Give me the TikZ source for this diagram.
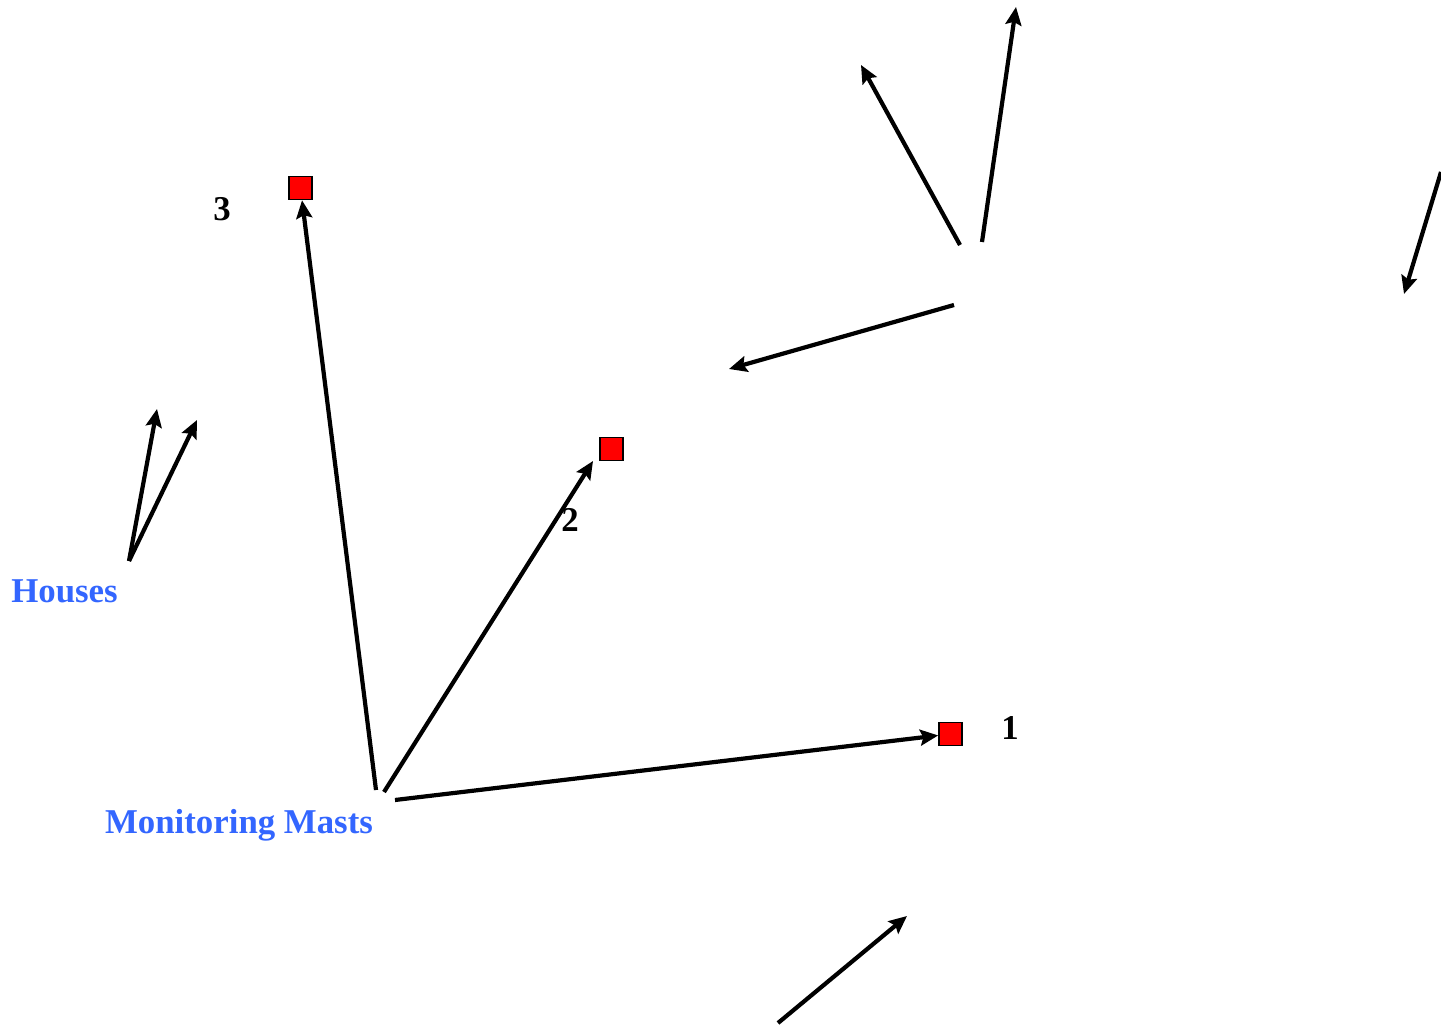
\documentclass[tikz,border=0pt]{standalone}
\usepackage{fontspec}
\setmainfont{Liberation Serif}
\usetikzlibrary{arrows.meta}
\definecolor{mastblue}{HTML}{3366FF}
\definecolor{mastred}{HTML}{FF0000}
\tikzset{
    every node/.style={font=\fontsize{17.4}{20}\selectfont\bfseries},
    mast/.style={rectangle,draw=black,fill=mastred,line width=0.8pt,minimum size=11.5pt,inner sep=0pt},
    caption/.style={text=mastblue,inner sep=0pt},
    num/.style={inner sep=0pt},
    wind/.style={draw,line width=2.1pt,-{Stealth[length=9pt,width=8pt,inset=1.5pt]}}
}
\begin{document}
\begin{tikzpicture}[x=0.5pt,y=-0.5pt]
\useasboundingbox (0,0) rectangle (1441,1027);
% masts
\node[mast] (m1) at (950.5,734) {};
\node[mast] (m2) at (611.5,449) {};
\node[mast] (m3) at (300.5,188) {};
\node[num] (n1) at (1010,728) {1};
\node[num] (n2) at (570,520) {2};
\node[num] (n3) at (222,209) {3};
% captions
\node[caption] (houses) at (64.5,591) {Houses};
\node[caption] (masts) at (239,825) {Monitoring Masts};
% from the masts caption
\coordinate (s1) at (395,800);
\coordinate (s2) at (384,792);
\coordinate (s3) at (376,790);
\coordinate (t2) at (593,461);
\draw[wind] (s1)--(m1);
\draw[wind] (s2)--(t2);
\draw[wind] (s3)--(m3);
% from the houses caption
\coordinate (h0) at (129,561);
\coordinate (h1) at (157,409);
\coordinate (h2) at (197,420);
\draw[wind] (h0)--(h1);
\draw[wind] (h0)--(h2);
% loose arrows
\coordinate (a0) at (960,245);
\coordinate (a1) at (861,65);
\coordinate (b0) at (982,242);
\coordinate (b1) at (1016,7);
\coordinate (c0) at (954,305);
\coordinate (c1) at (729,369);
\coordinate (d0) at (1441,172);
\coordinate (d1) at (1404,294);
\coordinate (e0) at (778,1023);
\coordinate (e1) at (907,916);
\draw[wind] (a0)--(a1);
\draw[wind] (b0)--(b1);
\draw[wind] (c0)--(c1);
\draw[wind] (d0)--(d1);
\draw[wind] (e0)--(e1);
\end{tikzpicture}
\end{document}
